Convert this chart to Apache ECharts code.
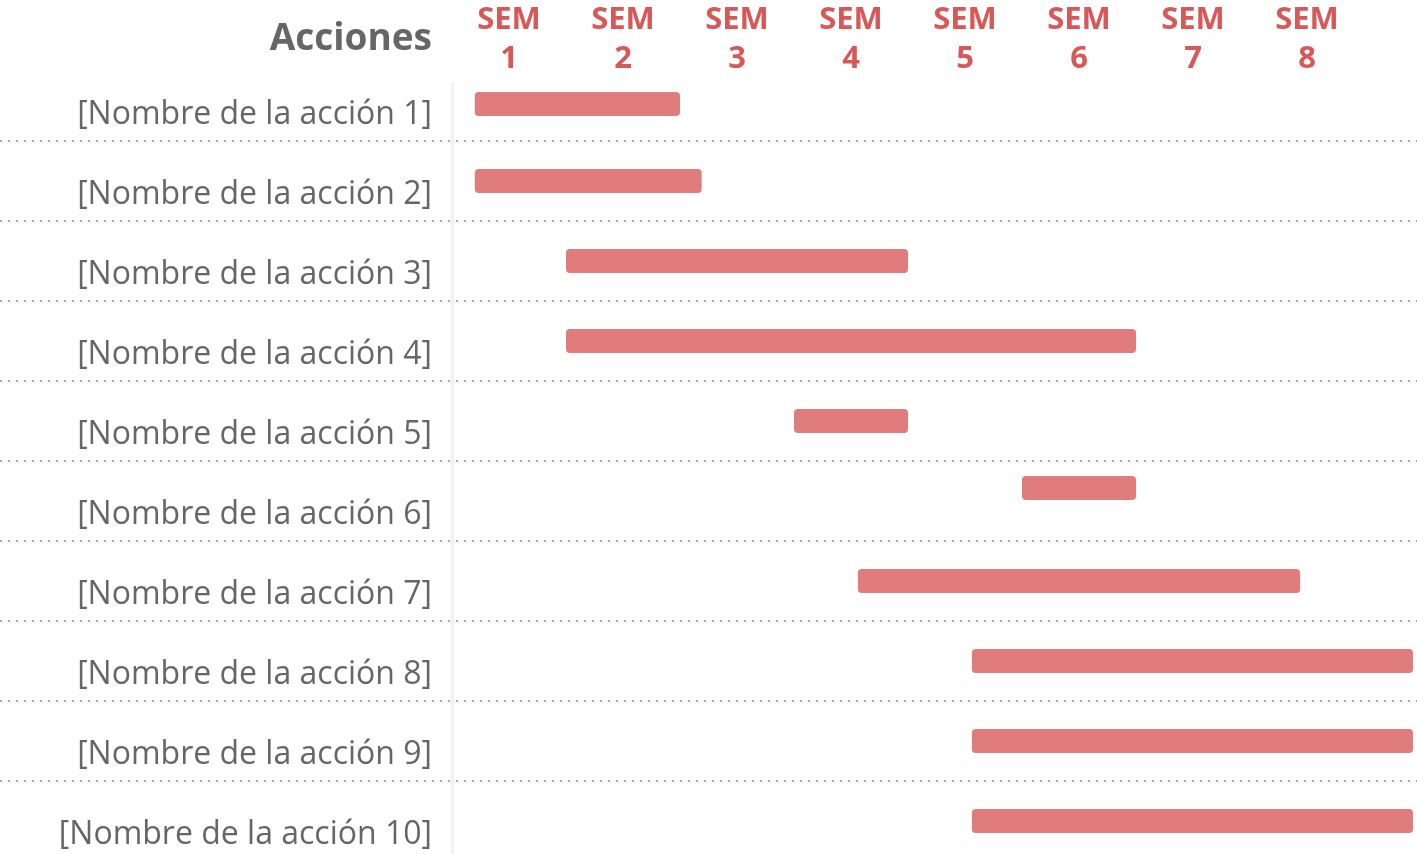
<!DOCTYPE html>
<html>
<head>
<meta charset="utf-8">
<script src="https://cdn.jsdelivr.net/npm/echarts@6/dist/echarts.min.js"></script>
<style>
  html, body { margin: 0; padding: 0; background: #ffffff; }
  #chart { width: 1417px; height: 854px; }
</style>
</head>
<body>
<div id="chart"></div>
<script>
// ---- data ----
const actions = [
  '[Nombre de la acción 1]', '[Nombre de la acción 2]', '[Nombre de la acción 3]',
  '[Nombre de la acción 4]', '[Nombre de la acción 5]', '[Nombre de la acción 6]',
  '[Nombre de la acción 7]', '[Nombre de la acción 8]', '[Nombre de la acción 9]',
  '[Nombre de la acción 10]'
];
// start / end of each action, in weeks from the start of SEM 1
const startWeek = [0.2, 0.2, 1.0, 1.0, 3.0, 5.0, 3.56, 4.56, 4.56, 4.56];
const endWeek   = [2.0, 2.19, 4.0, 6.0, 4.0, 6.0, 7.44, 8.43, 8.43, 8.43];
const weekLabels = ['1', '2', '3', '4', '5', '6', '7', '8'];
const headerTitle = 'Acciones';

// ---- chart ----
const FONT = 'Open Sans';
const chart = echarts.init(document.getElementById('chart'), null, { renderer: 'canvas' });

const ganttData = actions.map((a, i) => [i, startWeek[i], endWeek[i]]);
const weekCenters = weekLabels.map((w, i) => i + 0.5);

const option = {
  backgroundColor: '#ffffff',
  animation: false,
  title: {
    text: headerTitle,
    right: 985,
    top: 21,
    padding: 0,
    textStyle: { fontFamily: FONT, fontSize: 37, fontWeight: 'bold', color: '#666666' }
  },
  grid: [
    { left: 452, right: 0, top: 61, height: 800, containLabel: false, outerBoundsMode: 'none' },
    { left: 0, right: 0, top: 61, height: 800, containLabel: false, outerBoundsMode: 'none' },
    { left: 452, right: 0, top: 83, bottom: 0, containLabel: false, outerBoundsMode: 'none' }
  ],
  xAxis: [
    {
      gridIndex: 0, type: 'value', position: 'top', min: 0, max: 965 / 114,
      axisLine: { show: false }, axisTick: { show: false }, splitLine: { show: false },
      axisLabel: {
        customValues: weekCenters,
        formatter: v => 'SEM\n' + weekLabels[Math.round(v - 0.5)],
        fontFamily: FONT, fontSize: 31, fontWeight: 'bold', color: '#d95757',
        lineHeight: 39, margin: -18, align: 'center'
      }
    },
    { gridIndex: 1, type: 'value', show: false, min: 0, max: 1 },
    { gridIndex: 2, type: 'value', show: false, min: 0, max: 1 }
  ],
  yAxis: [
    {
      gridIndex: 0, type: 'category', data: actions, inverse: true,
      axisLine: { show: false }, axisTick: { show: false }, splitLine: { show: false },
      axisLabel: {
        fontFamily: FONT, fontSize: 32, color: '#666666', margin: 20,
        verticalAlign: 'top', lineHeight: 28
      }
    },
    {
      gridIndex: 1, type: 'category', data: actions, inverse: true,
      axisLine: { show: false }, axisTick: { show: false }, axisLabel: { show: false },
      splitLine: {
        show: true, showMinLine: false, showMaxLine: false,
        lineStyle: { color: '#aaaaaa', width: 2, type: [2, 6] }
      }
    },
    {
      gridIndex: 2, type: 'value', min: 0, max: 1,
      axisLine: { show: true, lineStyle: { color: '#f1f1f1', width: 3 } },
      axisTick: { show: false }, axisLabel: { show: false }, splitLine: { show: false }
    }
  ],
  series: [
    {
      type: 'custom',
      xAxisIndex: 0, yAxisIndex: 0,
      encode: { x: [1, 2], y: 0 },
      data: ganttData,
      renderItem: function (params, api) {
        const row = api.value(0);
        const s = api.coord([api.value(1), row]);
        const e = api.coord([api.value(2), row]);
        const h = 24;
        const nudge = row === 5 ? -13 : (row === 0 ? 3 : 0);
        return {
          type: 'rect',
          shape: { x: s[0], y: s[1] - h / 2 + nudge, width: e[0] - s[0], height: h, r: 4 },
          style: { fill: '#e07c7b' }
        };
      }
    }
  ]
};
chart.setOption(option);
</script>
</body>
</html>
